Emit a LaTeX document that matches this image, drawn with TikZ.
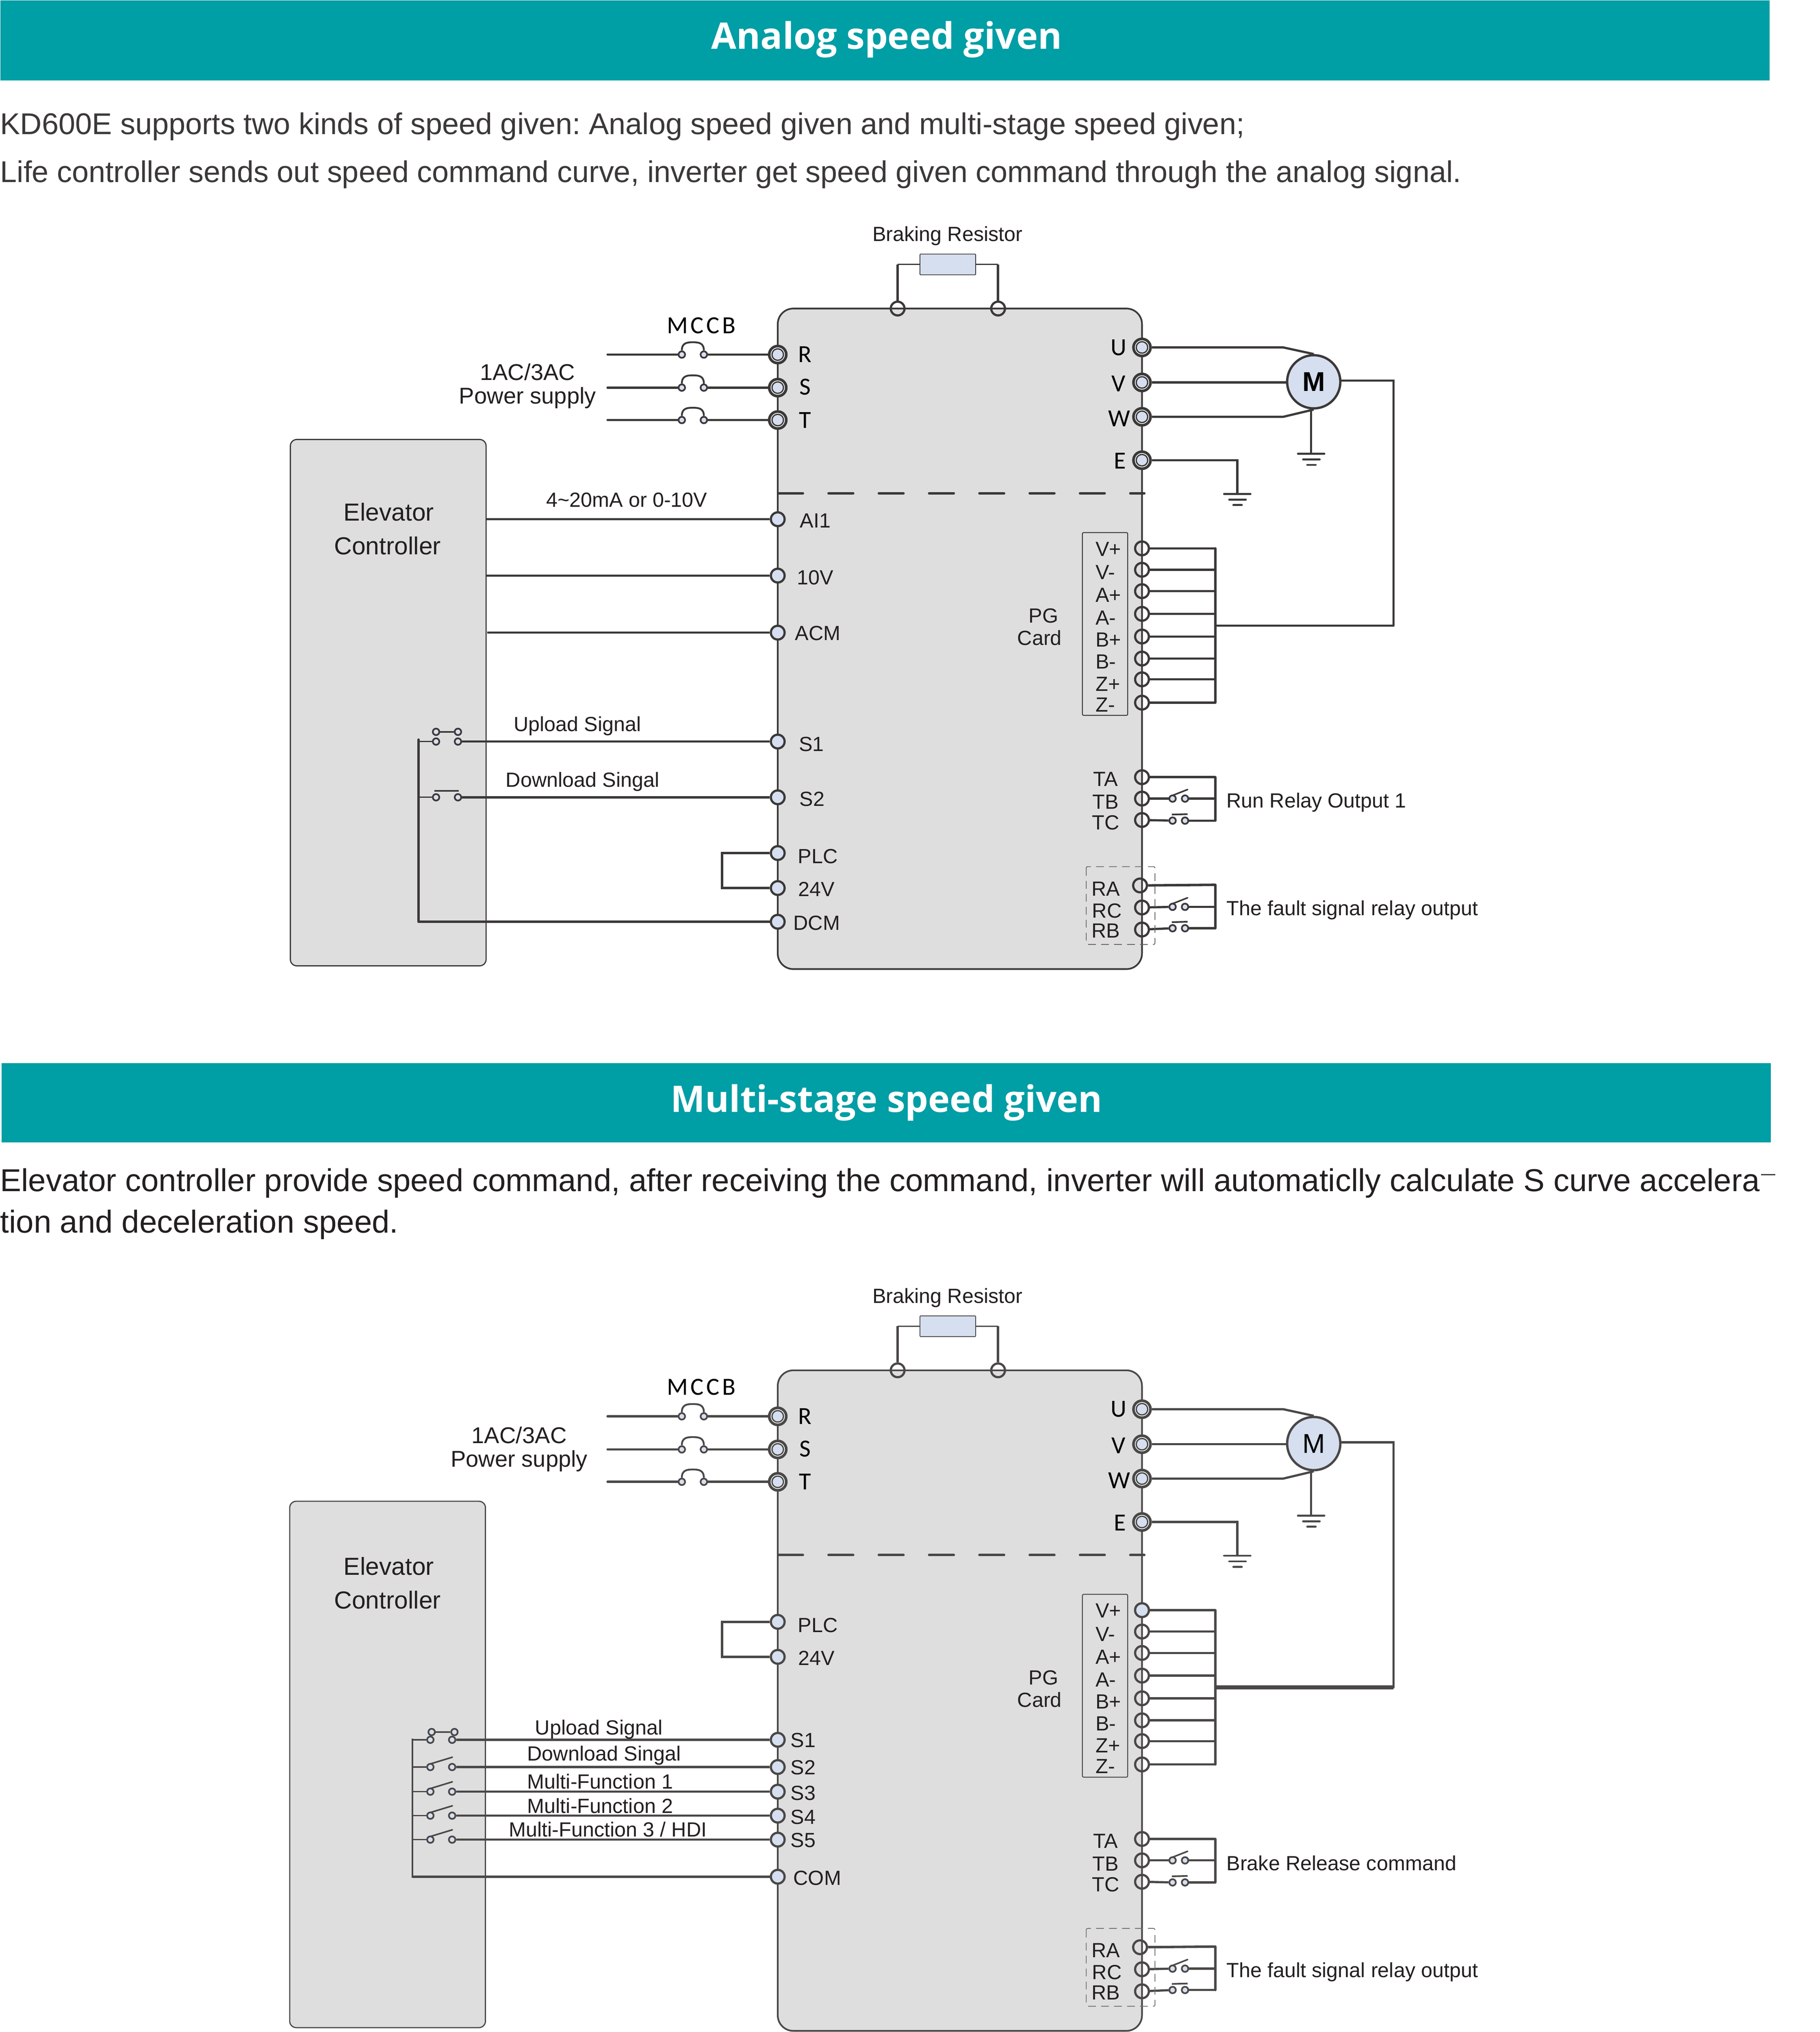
\documentclass[tikz,border=0pt]{standalone}
\usepackage{fontspec}
\setmainfont{Liberation Sans}
\newfontfamily\headfont{Open Sans}
\newfontfamily\pinfont{Carlito}
\usetikzlibrary{calc}
\definecolor{wire}{HTML}{3B3838}
\definecolor{teal1}{HTML}{009EA5}
\definecolor{boxgray}{HTML}{DEDEDE}
\definecolor{termblue}{HTML}{D6DFEF}
\definecolor{txt}{HTML}{231F20}
\tikzset{
 x=1pt,y=-1pt,
 header/.style={fill=teal1,draw=none},
 headtext/.style={text=white,font=\headfont\bfseries\fontsize{28.2}{29}\selectfont,inner sep=0},
 para/.style={anchor=west,inner sep=0,text=wire,font=\frenchspacing\fontsize{23.15}{24}\selectfont},
 parb/.style={anchor=west,inner sep=0,text=txt,font=\frenchspacing\fontsize{24.45}{25}\selectfont},
 unitbox/.style={draw=wire,fill=boxgray,line width=1.3,rounded corners=12},
 ctrlbox/.style={draw=wire,fill=boxgray,line width=.9,rounded corners=5},
 wr/.style={draw=wire,line width=1.7,line join=miter},
 thin wr/.style={draw=wire,line width=1},
 bus/.style={draw=wire,line width=1.85,line cap=round},
 term/.style={circle,draw=wire,fill=termblue,line width=1.7,minimum size=10.6,inner sep=0},
 oterm/.style={circle,draw=wire,line width=1.7,minimum size=10.6,inner sep=0},
 bigterm/.style={circle,draw=wire,fill=wire,minimum size=14.8,inner sep=0},
 contact/.style={circle,draw=wire,fill=termblue,line width=1.3,minimum size=5,inner sep=0},
 lab/.style={inner sep=0,text=txt,font=\fontsize{15.8}{16}\selectfont},
 labl/.style={lab,anchor=west},
 big/.style={inner sep=0,text=txt,font=\fontsize{17.6}{18}\selectfont},
 ctl/.style={inner sep=0,text=txt,font=\fontsize{19}{19}\selectfont},
 pin/.style={inner sep=0,text=black,font=\pinfont\fontsize{19}{19}\selectfont},
}
% big terminal with rings: #1 name, #2 x, #3 y
\newcommand\bigpin[3]{%
 \node[bigterm] (#1) at (#2,#3) {};
 \fill[white] (#2,#3) circle (5.5);
 \fill[wire] (#2,#3) circle (4.9);
 \fill[termblue] (#2,#3) circle (3.9);
}
% ground: #1 = coordinate name
\newcommand\earth[1]{%
 \draw[draw=wire,line width=1.5,line cap=round] ($(#1)+(-10.2,0)$) -- ($(#1)+(10.2,0)$);
 \draw[draw=wire,line width=1.5,line cap=round] ($(#1)+(-6.2,4.4)$) -- ($(#1)+(6.6,4.4)$);
 \draw[draw=wire,line width=1.5,line cap=round] ($(#1)+(-3,8.6)$) -- ($(#1)+(3.5,8.6)$);
}
% breaker: #1 prefix, #2 y, #3 terminal
\newcommand\breaker[3]{%
 \coordinate (#1s) at (468.7,#2);
 \node[contact] (#1a) at (526,#2) {};
 \node[contact] (#1b) at (543,#2) {};
 \draw[wr,line cap=round] (#1s) -- (#1a);
 \draw[wr] (#1b) -- (#3);
 \draw[draw=wire,line width=1.4] (#1a.north) .. controls ($(#1a)+(0,-9)$) and ($(#1a)+(4,-9.5)$) .. ($(#1a)+(8.5,-9.5)$)
   .. controls ($(#1b)+(-4,-9.5)$) and ($(#1b)+(0,-9)$) .. (#1b.north);
}
% relay output contacts
\newcommand\relay[7]{%
 \coordinate (#1t) at (937.5,#2);
 \coordinate (#1b) at (937.5,#4);
 \coordinate (#1m) at (937.5,#3);
 \draw[draw=wire,line width=1.9] (#5) -- (#1t);
 \node[contact] (#1a1) at (904.6,#3) {};
 \node[contact] (#1a2) at (914.2,#3) {};
 \node[contact] (#1c1) at (904.6,#4) {};
 \node[contact] (#1c2) at (914.2,#4) {};
 \draw[wr] (#6) -- (#1a1);
 \draw[wr] (#1a2) -- (#1m);
 \draw[wr] (#7) -- (#1c1);
 \draw[wr] (#1c2) -- (#1b);
 \draw[draw=wire,line width=1.2,line cap=round] ($(#1a1)+(.4,-2.6)$) -- ($(#1a1)+(11.6,-7)$);
 \draw[draw=wire,line width=1.3] ($(#1c1)+(-.6,-4.7)$) -- ($(#1c1)+(11.6,-5)$);
 \draw[bus] (#1t) -- (#1b);
}
% common parts: #1 prefix, #2 y offset, #3 motor label, #4 line width of the encoder feed
\newcommand\drive[4]{%
 \begin{scope}[shift={(0,#2)}]
 \node[unitbox,minimum width=281,minimum height=509.5,inner sep=0] (#1d) at (740.5,492.75) {};
 \node[draw=wire,line width=.7,rounded corners=1,minimum width=35,minimum height=141,inner sep=0] (#1pg) at (852.5,481.3) {};
 \coordinate (#1da) at (600.4,380.5);
 \coordinate (#1db) at (882.8,380.5);
 \draw[draw=wire,line width=1.9,line cap=round,dash pattern=on 19 off 19.8] (#1da) -- (#1db);
 % braking resistor
 \node[lab,yshift=-1pt] at (731,181) {Braking Resistor};
 \node[draw=wire,line width=.6,fill=termblue,rounded corners=.5,minimum width=43,minimum height=16,inner sep=0] (#1res) at (731.2,204) {};
 \node[oterm] (#1p1) at (692.5,238) {};
 \node[oterm] (#1p2) at (770,238) {};
 \coordinate (#1q1) at (692.5,204);
 \coordinate (#1q2) at (770,204);
 \draw[bus,line cap=butt] (#1p1) -- (#1q1);
 \draw[bus,line cap=butt] (#1p2) -- (#1q2);
 \draw[thin wr] (#1q1) -- (#1res);
 \draw[thin wr] (#1q2) -- (#1res);
 % mains
 \bigpin{#1R}{600}{273.5}
 \bigpin{#1S}{600}{299}
 \bigpin{#1T}{600}{324}
 \breaker{#1br}{273.5}{#1R}
 \breaker{#1bs}{299}{#1S}
 \breaker{#1bt}{324}{#1T}
 \node[pin] at (541,251) {M\kern2pt C\kern2pt C\kern2pt B};
 \node[pin] at (621,273.5) {R};
 \node[pin] at (621,298.5) {S};
 \node[pin] at (621,324) {T};
 % outputs
 \bigpin{#1U}{881}{268}
 \bigpin{#1V}{881}{295}
 \bigpin{#1W}{881}{321.5}
 \bigpin{#1E}{881}{355}
 \node[pin] at (863,268) {U};
 \node[pin] at (863,296) {V};
 \node[pin] at (863.5,323) {W};
 \node[pin] at (864,355.5) {E};
 \node[circle,draw=wire,fill=termblue,line width=1.8,minimum size=41,inner sep=0] (#1m) at (1013.5,294.5) {#3};
 \coordinate (#1ku) at (990,268);
 \coordinate (#1kw) at (990,321.5);
 \draw[wr] (#1U) -- (#1ku) -- (#1m.north);
 \draw[wr] (#1V) -- (#1m.west |- #1V);
 \draw[wr] (#1W) -- (#1kw) -- (#1m.south);
 \coordinate (#1g1) at (1011.5,350);
 \draw[wr] (#1m.south -| #1g1) -- (#1g1);
 \earth{#1g1}
 \coordinate (#1g2) at (954.5,381);
 \draw[wr] (#1E) -| (#1g2);
 \earth{#1g2}
 % PG card
 \foreach \nm/\yy/\ll/\ty in {a/423/V+/423.5,b/439.5/V-/441.5,c/456/A+/459,d/473.5/A-/476.5,e/491/B+/493.5,f/508/B-/510.5,g/524/Z+/527.5,h/542/Z-/543.5}{
   \node[oterm] (#1pg\nm) at (881,\yy) {};
   \node[lab,anchor=west] at (845,\ty) {\ll};
   \coordinate (#1pb\nm) at (937.5,\yy);
   \draw[wr] (#1pg\nm) -- (#1pb\nm);
 }
 \draw[bus] (#1pba) -- (#1pbh);
 \coordinate (#1j) at (937.5,482.6);
 \coordinate (#1c) at (1075,482.6);
 \coordinate (#1ct) at (1075,293.5);
 \draw[draw=wire,line width=#4] (#1j) -- (#1c);
 \draw[wr,line cap=round] (#1c) -- (#1ct) -- (#1m.east |- #1ct);
 \node[lab] at (805,475) {PG};
 \node[lab] at (802,492) {Card};
 % relays
 \node[oterm] (#1ta) at (881,599.5) {};
 \node[oterm] (#1tb) at (881,616) {};
 \node[oterm] (#1tc) at (881,632.5) {};
 \relay{#1rl}{599.5}{616}{633}{#1ta}{#1tb}{#1tc}
 \node[lab] at (853,601) {TA};
 \node[lab] at (853,618.5) {TB};
 \node[lab] at (853,634.5) {TC};
 \node[oterm] (#1ra) at (879.5,683) {};
 \node[oterm] (#1rc) at (881,700) {};
 \node[oterm] (#1rb) at (881,717) {};
 \relay{#1fl}{682.5}{699.5}{716}{#1ra}{#1rc}{#1rb}
 \node[lab] at (853,685.5) {RA};
 \node[lab] at (854,702.5) {RC};
 \node[lab] at (853,718) {RB};
 \draw[draw=wire!80,line width=.6,dash pattern=on 6 off 4,rounded corners=1] (838,668.5) rectangle (891,728.5);
 \end{scope}
}
\begin{document}
\begin{tikzpicture}
\useasboundingbox (0,0) rectangle (1404,1567.4);
\fill[white] (0,0) rectangle (1404,1567.4);
% ---------- headers and text
\node[header,minimum width=1365,minimum height=62,inner sep=0,anchor=north west] (h1) at (0,0) {};
\node[headtext] at (684,30.5) {Analog speed given};
\node[para] at (0,97.5) {KD600E supports two kinds of speed given: Analog speed given and multi-stage speed given;};
\node[para] at (0,134.5) {Life controller sends out speed command curve, inverter get speed given command through the analog signal.};
\node[header,minimum width=1365,minimum height=61,inner sep=0,anchor=north west] (h2) at (1,820) {};
\node[headtext] at (684,850.5) {Multi-stage speed given};
\node[parb] at (0,912.5) {Elevator controller provide speed command, after receiving the command, inverter will automaticlly calculate S curve accelera};
\coordinate (dsh1) at (1358.5,906);
\coordinate (dsh2) at (1369.5,906);
\draw[draw=wire,line width=.9] (dsh1) -- (dsh2);
\node[parb] at (0,944.5) {tion and deceleration speed.};

% ---------- first diagram
\node[ctrlbox,minimum width=151,minimum height=406,inner sep=0] (c1) at (299.5,542) {};
\node[ctl] at (300,395) {Elevator};
\node[ctl] at (299,421) {Controller};
\drive{a}{0}{\fontsize{21}{21}\selectfont\bfseries M}{1.8}
\node[big] at (407,287) {1AC/3AC};
\node[big,yshift=-1pt] at (407,306) {Power supply};
\node[labl,yshift=-1pt] at (946,618) {Run Relay Output 1};
\node[labl,yshift=-1pt] at (946,701) {The fault signal relay output};
\foreach \nm/\yy/\ll/\tx/\ty in {ai/400.5/AI1/629/401.5,tv/444/10V/629/445.5,ac/488/ACM/631/488.5,sa/572/S1/626/574,sb/615/S2/626.5/616.5,pl/658/PLC/631/660.5,tf/685/24V/630/686,dc/711/DCM/630/712}{
  \node[term] (a\nm) at (600,\yy) {};
  \node[lab] at (\tx,\ty) {\ll};
}
\coordinate (l1) at (375,400.5);
\coordinate (l2) at (375,444);
\coordinate (l3) at (376,488);
\draw[wr] (l1) -- (aai);
\draw[wr] (l2) -- (atv);
\draw[wr] (l3) -- (aac);
\node[lab] at (483.5,385.5) {4\textasciitilde 20mA or 0-10V};
\node[lab,yshift=-1pt] at (445.5,559) {Upload Signal};
\node[lab,yshift=-1pt] at (449.5,602) {Download Singal};
% switches
\node[contact] (s1a) at (336.4,572) {};
\node[contact] (s1b) at (353.3,572) {};
\node[contact] (s1c) at (336.4,564.5) {};
\node[contact] (s1d) at (353.3,564.5) {};
\draw[draw=wire,line width=1.4] (s1c) -- (s1d);
\node[contact] (s2a) at (336.4,615) {};
\node[contact] (s2b) at (353.3,615) {};
\coordinate (s2l) at (335,610);
\coordinate (s2r) at (354,610);
\draw[draw=wire,line width=1.4] (s2l) -- (s2r);
\draw[wr] (s1b) -- (asa);
\draw[wr] (s2b) -- (asb);
\coordinate (bt) at (323,570.5);
\coordinate (bb) at (323,711);
\draw[bus] (bt) -- (bb);
\draw[wr,line cap=round] (bb) -- (adc);
\draw[thin wr] (bt |- s1a) -- (s1a);
\draw[thin wr] (bt |- s2a) -- (s2a);
\coordinate (pa) at (557,658);
\coordinate (pb) at (557,685);
\draw[draw=wire,line width=1.8,line join=miter] (apl) -- (pa) -- (pb) -- (atf);

% ---------- second diagram: slightly lighter ink in the reference
\definecolor{wire}{HTML}{4A4847}
\node[ctrlbox,minimum width=151,minimum height=406,inner sep=0] (c2) at (299,1361) {};
\node[ctl] at (300,1208) {Elevator};
\node[ctl] at (299,1234) {Controller};
\drive{b}{819}{\fontsize{21}{21}\selectfont M}{3.2}
\node[term] (bpgv) at (bpga) {};
\node[big] at (400.5,1107) {1AC/3AC};
\node[big,yshift=-1pt] at (400.5,1126) {Power supply};
\node[labl] at (946,1437) {Brake Release command};
\node[labl,yshift=-1pt] at (946,1520) {The fault signal relay output};
\foreach \nm/\yy/\ll/\tx/\ty in {pl/1251/PLC/631/1253.5,tf/1278/24V/630/1279,sa/1342/S1/619.5/1342.5,sb/1363/S2/619.5/1363.5,sc/1382/S3/619.5/1383,sd/1400.5/S4/619.5/1401.5,se/1419/S5/619.5/1419.5,co/1447.6/COM/630.5/1448.5}{
  \node[term] (b\nm) at (600,\yy) {};
  \node[lab] at (\tx,\ty) {\ll};
}
\coordinate (qa) at (557,1251);
\coordinate (qb) at (557,1278);
\draw[draw=wire,line width=1.8,line join=miter] (bpl) -- (qa) -- (qb) -- (btf);
\node[lab,yshift=-1pt] at (462,1333) {Upload Signal};
\node[lab,yshift=-1pt] at (466,1353) {Download Singal};
\node[lab] at (463,1374) {Multi-Function 1};
\node[lab] at (463,1393) {Multi-Function 2};
\node[lab] at (469,1411) {Multi-Function 3 / HDI};
\coordinate (ct) at (318.3,1341);
\coordinate (cb) at (318.3,1447.6);
\draw[draw=wire,line width=1.3] (ct) -- (cb);
\draw[wr,line cap=round] (cb) -- (bco);
\foreach \nm/\yy in {a/1342,b/1363,c/1382,d/1400.5,e/1419}{
  \node[contact] (t\nm l) at (332,\yy) {};
  \node[contact] (t\nm r) at (348.8,\yy) {};
  \draw[thin wr] (ct |- t\nm l) -- (t\nm l);
  \draw[wr] (t\nm r) -- (bs\nm);
}
\foreach \nm in {b,c,d,e}{
  \draw[draw=wire,line width=1.2,line cap=round] ($(t\nm l)+(.6,-2.6)$) -- ($(t\nm l)+(17,-7.6)$);
}
\node[contact] (tu1) at (333,1336) {};
\node[contact] (tu2) at (350.6,1336) {};
\draw[draw=wire,line width=1.4] (tu1) -- (tu2);
\end{tikzpicture}
\end{document}
